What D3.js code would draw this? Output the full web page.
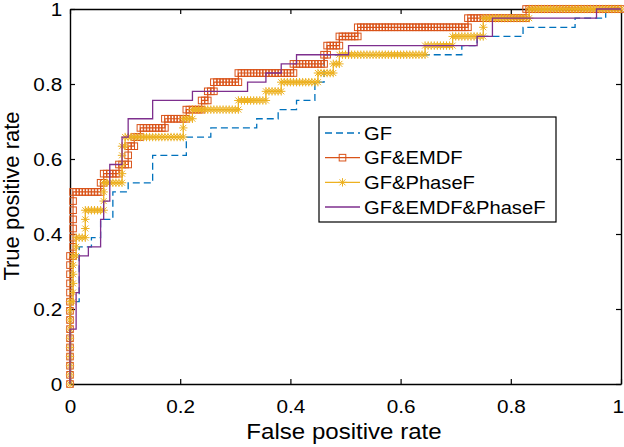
<!DOCTYPE html>
<html>
<head>
<meta charset="utf-8">
<script src="https://cdn.jsdelivr.net/npm/d3@7"></script>
<style>
  body { margin: 0; background: #fff; }
  text { font-family: "Liberation Sans", Arial, Helvetica, sans-serif; fill: #000; }
</style>
</head>
<body>
<div id="chart"></div>
<script>
// ROC corner points as (false positive count, true positive count)
const nNeg = 180;
const nPos = 41;

const xTicks = [0, 0.2, 0.4, 0.6, 0.8, 1];
const yTicks = [0, 0.2, 0.4, 0.6, 0.8, 1];
const names = ["GF", "GF&EMDF", "GF&PhaseF", "GF&EMDF&PhaseF"];

const gfPts = [[0,0],[0,9],[3,9],[3,15],[7,15],[7,16],[10,16],[10,18],[14,18],[14,21],[19,21],[19,22],
  [27,22],[27,25],[38,25],[38,27],[46,27],[46,28],[61,28],[61,29],[68,29],[68,30],[74,30],[74,31],
  [80,31],[80,33],[83,33],[83,36],[128,36],[128,37],[133,37],[133,38],[148,38],[148,39],[165,39],
  [165,40],[175,40],[175,41],[180,41]];

const emdfPts = [[0,0],[0,14],[1,14],[1,21],[10,21],[10,22],[11,22],[11,23],[16,23],[16,24],[19,24],
  [19,26],[21,26],[21,27],[23,27],[23,28],[31,28],[31,29],[38,29],[38,30],[43,30],[43,31],[45,31],
  [45,32],[47,32],[47,33],[55,33],[55,34],[73,34],[73,35],[83,35],[83,36],[84,36],[84,37],[88,37],
  [88,38],[94,38],[94,39],[130,39],[130,40],[149,40],[149,41],[180,41]];

const phasePts = [[0,0],[0,9],[1,9],[1,14],[2,14],[2,16],[5,16],[5,19],[11,19],[11,22],[17,22],[17,26],
  [18,26],[18,27],[37,27],[37,29],[40,29],[40,30],[55,30],[55,31],[64,31],[64,32],[69,32],[69,33],
  [81,33],[81,34],[86,34],[86,35],[88,35],[88,36],[116,36],[116,37],[125,37],[125,38],[135,38],
  [135,40],[150,40],[150,41],[180,41]];

const allPts = [[0,0],[0,6],[2,6],[2,10],[3,10],[3,14],[6,14],[6,15],[10,15],[10,18],[11,18],[11,20],
  [13,20],[13,24],[17,24],[17,27],[19,27],[19,29],[27,29],[27,31],[40,31],[40,32],[58,32],[58,33],
  [64,33],[64,34],[69,34],[69,35],[74,35],[74,36],[91,36],[91,37],[133,37],[133,38],[138,38],
  [138,40],[172,40],[172,41],[180,41]];

const colors = ["#0072BD", "#D95319", "#EDB120", "#7E2F8E"];

const width = 624, height = 447;
const sx = 1.12; // text in the picture is slightly wide

const svg = d3.select("#chart").append("svg")
  .attr("width", width)
  .attr("height", height);

const x = d3.scaleLinear().domain([0, 1]).range([70, 621]);
const y = d3.scaleLinear().domain([0, 1]).range([384, 9]);
const fmt = d3.format("~g");

// axes box with inward ticks
svg.append("g")
  .attr("transform", "translate(0,384)")
  .call(d3.axisBottom(x).tickValues(xTicks).tickSize(-5).tickSizeOuter(0).tickPadding(16).tickFormat(fmt))
  .call(g => g.selectAll("text").attr("font-size", 18.5).attr("transform", `scale(${sx},1)`))
  .call(g => g.selectAll("text").filter(d => d == 1).attr("dx", -3));
svg.append("g")
  .attr("transform", "translate(0,9)")
  .call(d3.axisTop(x).tickValues(xTicks).tickSize(-5).tickSizeOuter(0).tickFormat(""));
svg.append("g")
  .attr("transform", "translate(70,0)")
  .call(d3.axisLeft(y).tickValues(yTicks).tickSize(-5).tickSizeOuter(0).tickPadding(7).tickFormat(fmt))
  .call(g => g.selectAll("text").attr("font-size", 18.5).attr("dy", "0.36em").attr("transform", `scale(${sx},1)`));
svg.append("g")
  .attr("transform", "translate(621,0)")
  .call(d3.axisRight(y).tickValues(yTicks).tickSize(-5).tickSizeOuter(0).tickFormat(""));

svg.selectAll(".domain").attr("stroke", "#000").attr("stroke-width", 1.4);
svg.selectAll(".tick line").attr("stroke", "#000").attr("stroke-width", 1.2);
svg.selectAll(".tick text").attr("fill", "#000");

svg.append("text")
  .attr("transform", `translate(344,439) scale(${sx},1)`)
  .attr("text-anchor", "middle")
  .attr("font-size", 21.5)
  .text("False positive rate");

svg.append("text")
  .attr("transform", "translate(19,196) rotate(-90)")
  .attr("text-anchor", "middle")
  .attr("font-size", 22)
  .text("True positive rate");

const line = d3.line()
  .x(d => x(d[0] / nNeg))
  .y(d => y(d[1] / nPos));

// every ROC point along the step path (one per threshold)
function rocPoints(corners) {
  let out = [corners[0]];
  for (let i = 1; i < corners.length; i++) {
    let a = corners[i - 1], b = corners[i];
    let steps = Math.max(b[0] - a[0], b[1] - a[1]);
    for (let k = 1; k <= steps; k++) {
      out.push([a[0] + Math.sign(b[0] - a[0]) * k, a[1] + Math.sign(b[1] - a[1]) * k]);
    }
  }
  return out;
}

const star = "M-4.2,0H4.2M0,-4.2V4.2M-3,-3L3,3M-3,3L3,-3";

// GF
svg.append("path")
  .attr("d", line(gfPts))
  .attr("fill", "none")
  .attr("stroke", colors[0])
  .attr("stroke-width", 1.3)
  .attr("stroke-dasharray", "7,4");

// GF&EMDF
svg.append("path")
  .attr("d", line(emdfPts))
  .attr("fill", "none")
  .attr("stroke", colors[1])
  .attr("stroke-width", 1.2);
svg.append("g").selectAll("rect")
  .data(rocPoints(emdfPts))
  .join("rect")
  .attr("x", d => x(d[0] / nNeg) - 3.3)
  .attr("y", d => y(d[1] / nPos) - 3.3)
  .attr("width", 6.6)
  .attr("height", 6.6)
  .attr("fill", "none")
  .attr("stroke", colors[1])
  .attr("stroke-width", 1);

// GF&PhaseF
svg.append("path")
  .attr("d", line(phasePts))
  .attr("fill", "none")
  .attr("stroke", colors[2])
  .attr("stroke-width", 1.2);
svg.append("g").selectAll("path")
  .data(rocPoints(phasePts))
  .join("path")
  .attr("d", star)
  .attr("transform", d => `translate(${x(d[0] / nNeg)},${y(d[1] / nPos)})`)
  .attr("fill", "none")
  .attr("stroke", colors[2])
  .attr("stroke-width", 1);

// GF&EMDF&PhaseF
svg.append("path")
  .attr("d", line(allPts))
  .attr("fill", "none")
  .attr("stroke", colors[3])
  .attr("stroke-width", 1.3);

// legend
const leg = svg.append("g");
leg.append("rect")
  .attr("x", 319).attr("y", 117)
  .attr("width", 237).attr("height", 105)
  .attr("fill", "#fff")
  .attr("stroke", "#000")
  .attr("stroke-width", 1.2);

const rowY = d3.scalePoint().domain(names).range([133, 207]);
names.forEach((n, i) => {
  let yy = rowY(n);
  let l = leg.append("line")
    .attr("x1", 325).attr("x2", 360)
    .attr("y1", yy).attr("y2", yy)
    .attr("stroke", colors[i])
    .attr("stroke-width", 1.3);
  if (i == 0) l.attr("stroke-dasharray", "7,4");
  if (i == 1) {
    leg.append("rect").attr("x", 342.5 - 3.3).attr("y", yy - 3.3)
      .attr("width", 6.6).attr("height", 6.6)
      .attr("fill", "none").attr("stroke", colors[1]);
  }
  if (i == 2) {
    leg.append("path").attr("d", star)
      .attr("transform", `translate(342.5,${yy})`)
      .attr("fill", "none").attr("stroke", colors[2]);
  }
  leg.append("text")
    .attr("transform", `translate(364,${yy + 6.5}) scale(${sx},1)`)
    .attr("font-size", 18)
    .text(n);
});
</script>
</body>
</html>
